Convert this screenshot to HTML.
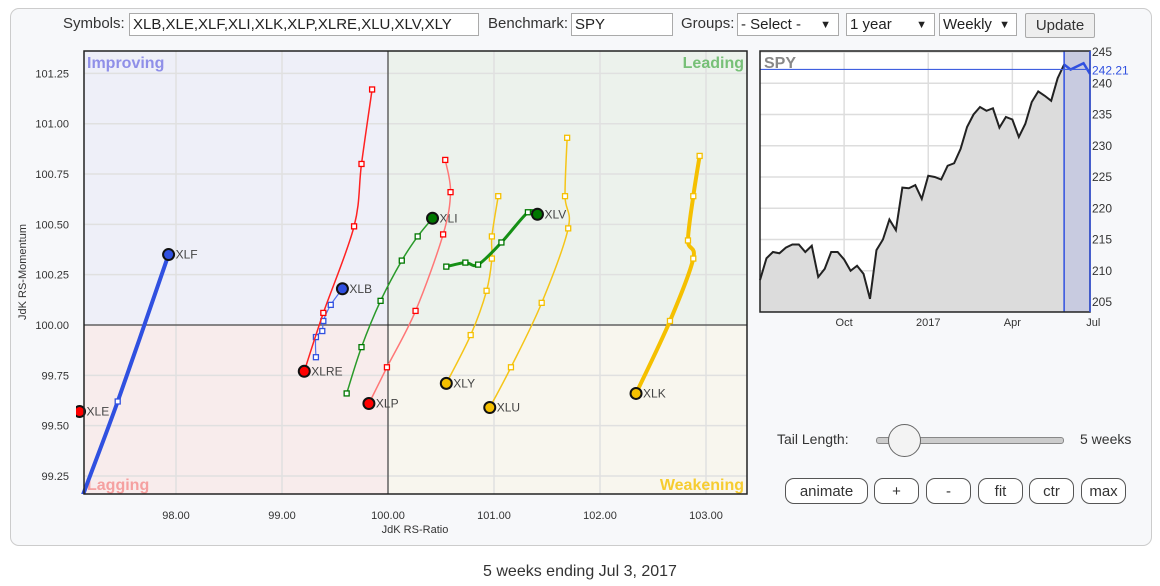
<!DOCTYPE html>
<html style="overflow:hidden"><head><meta charset="utf-8"><style>
html,body{margin:0;width:1160px;height:586px;overflow:hidden}
body{background:#fff;font-family:"Liberation Sans",sans-serif;position:relative}
.box{position:absolute;left:10px;top:8px;width:1140px;height:536px;border:1px solid #ccc;border-radius:9px;background:#f7f8fa}
.lbl{position:absolute;font-size:15px;color:#333;white-space:nowrap}
.inp{position:absolute;height:23px;border:1px solid #aaa;background:#fff;font-size:15px;line-height:22px;padding-left:3px;box-sizing:border-box;color:#222;overflow:hidden;white-space:nowrap}
.btn{position:absolute;height:26px;border:1px solid #555;border-radius:9px;background:#fff;font-size:15px;text-align:center;line-height:25px;color:#333;box-sizing:border-box}
svg text{font-family:"Liberation Sans",sans-serif}
</style></head><body>
<div class="box"></div>
<div class="lbl" style="left:63px;top:15px">Symbols:</div>
<div class="inp" style="left:129px;top:13px;width:350px">XLB,XLE,XLF,XLI,XLK,XLP,XLRE,XLU,XLV,XLY</div>
<div class="lbl" style="left:488px;top:15px">Benchmark:</div>
<div class="inp" style="left:571px;top:13px;width:102px">SPY</div>
<div class="lbl" style="left:681px;top:15px">Groups:</div>
<div class="inp" style="left:737px;top:13px;width:102px">- Select -<span style="position:absolute;right:7px;font-size:11px">▼</span></div>
<div class="inp" style="left:846px;top:13px;width:89px">1 year<span style="position:absolute;right:7px;font-size:11px">▼</span></div>
<div class="inp" style="left:939px;top:13px;width:78px">Weekly<span style="position:absolute;right:6px;font-size:11px">▼</span></div>
<div class="btn" style="left:1025px;top:13px;width:70px;height:25px;line-height:24px;border-radius:2px;border-color:#aaa;background:#eee">Update</div>

<svg id="rrg" width="1160" height="586" style="position:absolute;left:0;top:0"></svg>

<div class="lbl" style="left:777px;top:431px;font-size:14px">Tail Length:</div>
<div style="position:absolute;left:876px;top:437px;width:186px;height:5px;border:1px solid #888;border-radius:3px;background:#ccc"></div>
<div style="position:absolute;left:888px;top:424px;width:31px;height:31px;border:1px solid #666;border-radius:50%;background:#f3f3f3"></div>
<div class="lbl" style="left:1080px;top:431px;font-size:14px">5 weeks</div>
<div class="btn" style="left:785px;top:478px;width:83px">animate</div>
<div class="btn" style="left:874px;top:478px;width:45px">+</div>
<div class="btn" style="left:926px;top:478px;width:45px">-</div>
<div class="btn" style="left:978px;top:478px;width:45px">fit</div>
<div class="btn" style="left:1029px;top:478px;width:45px">ctr</div>
<div class="btn" style="left:1081px;top:478px;width:45px">max</div>
<div class="lbl" style="left:0;width:1160px;text-align:center;top:562px;font-size:16px;line-height:20px">5 weeks ending Jul 3, 2017</div>

<script>
// RRG data
const symbols = ["XLF","XLE","XLB","XLRE","XLI","XLP","XLY","XLU","XLV","XLK"];
const ratioTails = {
 XLF:[96.85,97.05,97.45,97.93],
 XLE:[97.09],
 XLB:[99.32,99.32,99.38,99.39,99.46,99.57],
 XLRE:[99.85,99.75,99.68,99.39,99.21],
 XLI:[99.61,99.75,99.93,100.13,100.28,100.42],
 XLP:[100.54,100.59,100.52,100.26,99.99,99.82],
 XLY:[101.04,100.98,100.98,100.93,100.78,100.55],
 XLU:[101.69,101.67,101.70,101.45,101.16,100.96],
 XLV:[100.55,100.73,100.85,101.07,101.32,101.41],
 XLK:[102.94,102.88,102.83,102.88,102.66,102.34]
};
const momentumTails = {
 XLF:[98.70,99.05,99.62,100.35],
 XLE:[99.57],
 XLB:[99.84,99.94,99.97,100.02,100.10,100.18],
 XLRE:[101.17,100.80,100.49,100.06,99.77],
 XLI:[99.66,99.89,100.12,100.32,100.44,100.53],
 XLP:[100.82,100.66,100.45,100.07,99.79,99.61],
 XLY:[100.64,100.44,100.33,100.17,99.95,99.71],
 XLU:[100.93,100.64,100.48,100.11,99.79,99.59],
 XLV:[100.29,100.31,100.30,100.41,100.56,100.55],
 XLK:[100.84,100.64,100.42,100.33,100.02,99.66]
};
const xTickLabels = ["98.00","99.00","100.00","101.00","102.00","103.00"];
const xTickValues = [98,99,100,101,102,103];
const yTickLabels = ["99.25","99.50","99.75","100.00","100.25","100.50","100.75","101.00","101.25"];
const yTickValues = [99.25,99.5,99.75,100,100.25,100.5,100.75,101,101.25];
// SPY price data (weekly)
const spyPrices = [208.5,212,213,212.8,213.7,214.2,214.2,213,214,209,210.3,213,213,211.8,210,210.8,209.5,205.5,213.3,215,218.2,216.5,223.3,223.2,223.7,221.5,225.2,225,224.6,226.8,227.2,229.5,233,235,236.2,235.6,236,232.9,234.6,234.2,231.4,233.5,237,238.7,238,237.2,240.8,243,242.2,242.7,243.2,241.5];
const spyYTicks = [205,210,215,220,225,230,235,240,245];
const spyXLabels = ["Oct","2017","Apr","Jul"];
const spyXIndex = [13,26,39,51.5];
const spyLast = "242.21";

const svg=document.getElementById('rrg');const NS="http://www.w3.org/2000/svg";
function mk(t,a,p){const e=document.createElementNS(NS,t);for(const k in a)e.setAttribute(k,a[k]);(p||svg).appendChild(e);return e;}
const L=84,R=747,T=51,B=494;
const xS=v=>388+(v-100)*106, yS=v=>325-(v-100)*201.3;
let defs=mk('defs',{});let cp=mk('clipPath',{id:'pc'},defs);mk('rect',{x:L-8,y:T,width:R-L+8,height:B-T},cp);
let q;
q=mk('rect',{x:L,y:T,width:388-L,height:325-T,fill:'#eeeff8'});
q=mk('rect',{x:388,y:T,width:R-388,height:325-T,fill:'#ecf2ec'});
q=mk('rect',{x:L,y:325,width:388-L,height:B-325,fill:'#f8ecec'});
q=mk('rect',{x:388,y:325,width:R-388,height:B-325,fill:'#f8f6ee'});
xTickValues.forEach((v,i)=>{mk('line',{x1:xS(v),x2:xS(v),y1:T,y2:B,stroke:'#e0e0e0','stroke-width':1.5});
 let t=mk('text',{x:xS(v),y:519,'font-size':11,fill:'#333','text-anchor':'middle'});t.textContent=xTickLabels[i];
 });
yTickValues.forEach((v,i)=>{mk('line',{x1:L,x2:R,y1:yS(v),y2:yS(v),stroke:'#e0e0e0','stroke-width':1.5});
 let t=mk('text',{x:69,y:yS(v)+4,'font-size':11,fill:'#333','text-anchor':'end'});t.textContent=yTickLabels[i];
 });
mk('line',{x1:388,x2:388,y1:T,y2:B,stroke:'#222','stroke-width':1});
mk('line',{x1:L,x2:R,y1:325,y2:325,stroke:'#222','stroke-width':1});
[["Improving",87,68,'start','#8f8fe8'],["Leading",744,68,'end','#77c077'],["Lagging",87,490,'start','#f5a0a0'],["Weakening",744,490,'end','#f6cc30']].forEach(a=>{
 let t=mk('text',{x:a[1],y:a[2],'font-size':16,'font-weight':'bold',fill:a[4],'text-anchor':a[3]});t.textContent=a[0];
 });
let t=mk('text',{x:415,y:533,'font-size':11,fill:'#333','text-anchor':'middle'});t.textContent='JdK RS-Ratio';

t=mk('text',{x:0,y:0,'font-size':11,fill:'#333','text-anchor':'middle',transform:'translate(26,272) rotate(-90)'});t.textContent='JdK RS-Momentum';


const style={XLF:['#3050e0',4,'#3050e0'],XLE:['#f00',1.5,'#f00'],XLB:['#5070ee',1.2,'#3050e0'],XLRE:['#f22',1.5,'#f00'],XLI:['#2a9a2a',1.5,'#070'],
 XLP:['#f77',1.5,'#f00'],XLY:['#f5c518',1.5,'#f5c000'],XLU:['#f5c518',1.5,'#f5c000'],XLV:['#159015',3,'#070'],XLK:['#f5c000',4,'#f5c000']};
const g=mk('g',{'clip-path':'url(#pc)'});
function curve(p){if(p.length<2)return'';let d='M'+p[0][0]+','+p[0][1];
 for(let i=0;i<p.length-1;i++){const p0=p[i-1]||p[i],p1=p[i],p2=p[i+1],p3=p[i+2]||p2;
  d+=' C'+(p1[0]+(p2[0]-p0[0])/6)+','+(p1[1]+(p2[1]-p0[1])/6)+' '+(p2[0]-(p3[0]-p1[0])/6)+','+(p2[1]-(p3[1]-p1[1])/6)+' '+p2[0]+','+p2[1];}return d;}
symbols.forEach(s=>{const xs=ratioTails[s],ys=momentumTails[s],st=style[s];
 const pts=xs.map((v,i)=>[xS(v),yS(ys[i])]);
 const path=mk('path',{d:curve(pts),fill:'none',stroke:st[0],'stroke-width':st[1]},g);
 
 pts.slice(0,-1).forEach(p=>{const m=mk('rect',{x:p[0]-2.5,y:p[1]-2.5,width:5,height:5,fill:'#fff',stroke:st[2],'stroke-width':1.3},g);
  });
 const h=pts[pts.length-1];
 const c=mk('circle',{cx:h[0],cy:h[1],r:5.5,fill:st[2],stroke:'#111','stroke-width':2},g);
 
 const tx=mk('text',{x:h[0]+7,y:h[1]+4,'font-size':12,fill:'#444'},g);tx.textContent=s;
 });
mk('rect',{x:L,y:T,width:R-L,height:B-T,fill:'none',stroke:'#222','stroke-width':1.5});

// SPY chart
const SL=760,SR=1090,ST=51,SB=312;
const sx=i=>SL+i*(SR-SL)/(spyPrices.length-1), sy=v=>302-(v-205)*6.25;
mk('rect',{x:SL,y:ST,width:SR-SL,height:SB-ST,fill:'#fff'});
spyYTicks.forEach(v=>{mk('line',{x1:SL,x2:SR,y1:sy(v),y2:sy(v),stroke:'#ddd','stroke-width':1.5});
 let tt=mk('text',{x:1092,y:sy(v)+4,'font-size':12,fill:'#333'});tt.textContent=v;});
spyXIndex.forEach((v,i)=>{if(i<3)mk('line',{x1:sx(v),x2:sx(v),y1:ST,y2:SB,stroke:'#ddd','stroke-width':1.5});
 let tt=mk('text',{x:sx(v),y:326,'font-size':11,fill:'#333','text-anchor':'middle'});tt.textContent=spyXLabels[i];});
let pp=spyPrices.map((v,i)=>sx(i)+','+sy(v)).join(' L');
let area=mk('path',{d:'M'+SL+','+SB+' L'+pp+' L'+SR+','+SB+'Z',fill:'#dcdcdc'});
const n=spyPrices.length,k=n-6;
mk('rect',{x:sx(k+1),y:ST,width:SR-sx(k+1),height:SB-ST,fill:'#c8cbe0'});
let ln=mk('path',{d:'M'+spyPrices.slice(0,k+2).map((v,i)=>sx(i)+','+sy(v)).join(' L'),fill:'none',stroke:'#222','stroke-width':2});

let ln2=mk('path',{d:'M'+spyPrices.slice(k+1).map((v,i)=>sx(i+k+1)+','+sy(v)).join(' L'),fill:'none',stroke:'#3050e0','stroke-width':2.5});

mk('line',{x1:sx(k+1),x2:sx(k+1),y1:ST,y2:SB,stroke:'#3050e0','stroke-width':1.5});
mk('line',{x1:SL,x2:SR,y1:sy(242.21),y2:sy(242.21),stroke:'#4060e0','stroke-width':1.2});
let lv=mk('text',{x:1092,y:sy(242.21)+5,'font-size':12,fill:'#3050e0'});lv.textContent=spyLast;
let st2=mk('text',{x:764,y:68,'font-size':16,'font-weight':'bold',fill:'#888'});st2.textContent='SPY';
mk('rect',{x:SL,y:ST,width:SR-SL,height:SB-ST,fill:'none',stroke:'#222','stroke-width':1.5});
mk('line',{x1:SR,x2:SR,y1:ST,y2:SB,stroke:'#3050e0','stroke-width':1.5});
// resize grip
[[1131,1145,1145,1131],[1136,1145,1145,1136],[1141,1145,1145,1141]].forEach(a=>mk('line',{x1:a[0],y1:a[1],x2:a[2],y2:a[3],stroke:'#666','stroke-width':1.3}));
</script>
</body></html>
